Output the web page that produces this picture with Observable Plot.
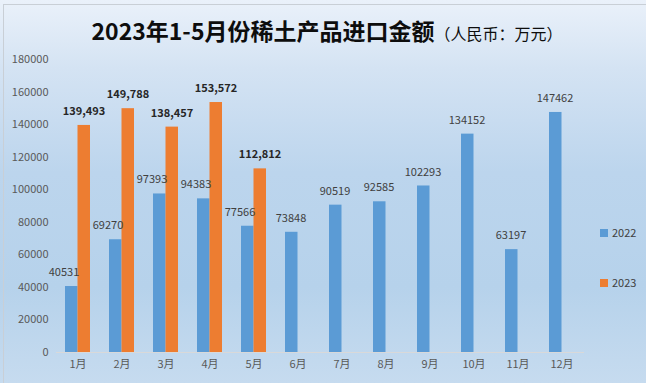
<!DOCTYPE html>
<html>
<head>
<meta charset="utf-8">
<script src="https://cdn.jsdelivr.net/npm/d3@7"></script>
<script src="https://cdn.jsdelivr.net/npm/@observablehq/plot@0.6"></script>
<style>
  html, body { margin: 0; padding: 0; }
  body { width: 646px; height: 383px; overflow: hidden; font-family: "Noto Sans CJK SC", "Noto Sans", sans-serif; }
  #chart {
    position: relative; width: 646px; height: 383px;
    background: linear-gradient(to bottom, #eaf1fa 0%, #d4e3f3 18%, #bcd5ed 45%, #b6d2eb 75%, #c6dbef 100%);
  }
  #frame { position: absolute; left: 3px; top: 4px; right: 0; bottom: 0; border-left: 1px solid #c9cfd6; border-top: 1px solid #c9cfd6; pointer-events: none; }
  #title { position: absolute; left: 4px; top: 14px; width: 646px; text-align: center; line-height: 32px; color: #0d0d0d; white-space: nowrap; }
  #title .main { font-size: 23px; font-weight: 700; }
  #title .sub { font-size: 16px; font-weight: 400; }
  #plot { position: absolute; left: 0; top: 50px; }
  .leg { position: absolute; left: 600px; font-size: 11px; color: #404040; line-height: 14px; }
  .leg span { display: inline-block; width: 8px; height: 8px; margin-right: 4px; vertical-align: -0px; }
</style>
</head>
<body>
<div id="chart">
  <div id="frame"></div>
  <div id="title"><span class="main">2023年1-5月份稀土产品进口金额</span><span class="sub">（人民币：万元）</span></div>
  <div id="plot"></div>
  <div class="leg" style="top:225px"><span style="background:#5b9bd5"></span>2022</div>
  <div class="leg" style="top:275px"><span style="background:#ed7d31"></span>2023</div>
</div>
<script>
const months = ["1月","2月","3月","4月","5月","6月","7月","8月","9月","10月","11月","12月"];
const values2022 = [40531, 69270, 97393, 94383, 77566, 73848, 90519, 92585, 102293, 134152, 63197, 147462];
const values2023 = [139493, 149788, 138457, 153572, 112812];
const yTicks = [0, 20000, 40000, 60000, 80000, 100000, 120000, 140000, 160000, 180000];

const d22 = months.map((m, i) => ({month: m, value: values2022[i], has2023: i < values2023.length}));
const d23 = values2023.map((v, i) => ({month: months[i], value: v}));

const plot = Plot.plot({
  width: 646,
  height: 333,
  marginLeft: 56,
  marginRight: 62,
  marginTop: 9,
  marginBottom: 31,
  style: {background: "transparent", fontFamily: "'Noto Sans CJK SC', 'Noto Sans', sans-serif", fontSize: "11px"},
  x: {domain: months, paddingInner: 0.43, paddingOuter: 0.215, tickSize: 0, tickPadding: 8, label: null},
  y: {domain: [0, 180000], ticks: yTicks, tickFormat: d3.format("d"), tickSize: 0, tickPadding: 8, label: null},
  marks: [
    Plot.axisX({tickSize: 0, tickPadding: 8, fill: "#595959", fontSize: 11}),
    Plot.axisY({ticks: yTicks, tickFormat: d3.format("d"), tickSize: 0, tickPadding: 8, fill: "#595959", fontSize: 11}),
    Plot.barY(d22, {x: "month", y: "value", fill: "#5b9bd5", insetRight: 12.5}),
    Plot.barY(d23, {x: "month", y: "value", fill: "#ed7d31", insetLeft: 12.5}),
    Plot.ruleY([0], {stroke: "#d9d9d9", strokeWidth: 1}),
    Plot.text(d22.filter(d => d.has2023), {x: "month", y: "value", text: d => String(d.value), dx: -14, dy: -14, fill: "#404040", fontSize: 11}),
    Plot.text(d22.filter(d => !d.has2023), {x: "month", y: "value", text: d => String(d.value), dx: -7, dy: -14, fill: "#404040", fontSize: 11}),
    Plot.text(d23, {x: "month", y: "value", text: d => d3.format(",")(d.value), dx: 6, dy: -14, fill: "#262626", fontSize: 11, fontWeight: "bold"})
  ]
});
document.getElementById("plot").appendChild(plot);
</script>
</body>
</html>
